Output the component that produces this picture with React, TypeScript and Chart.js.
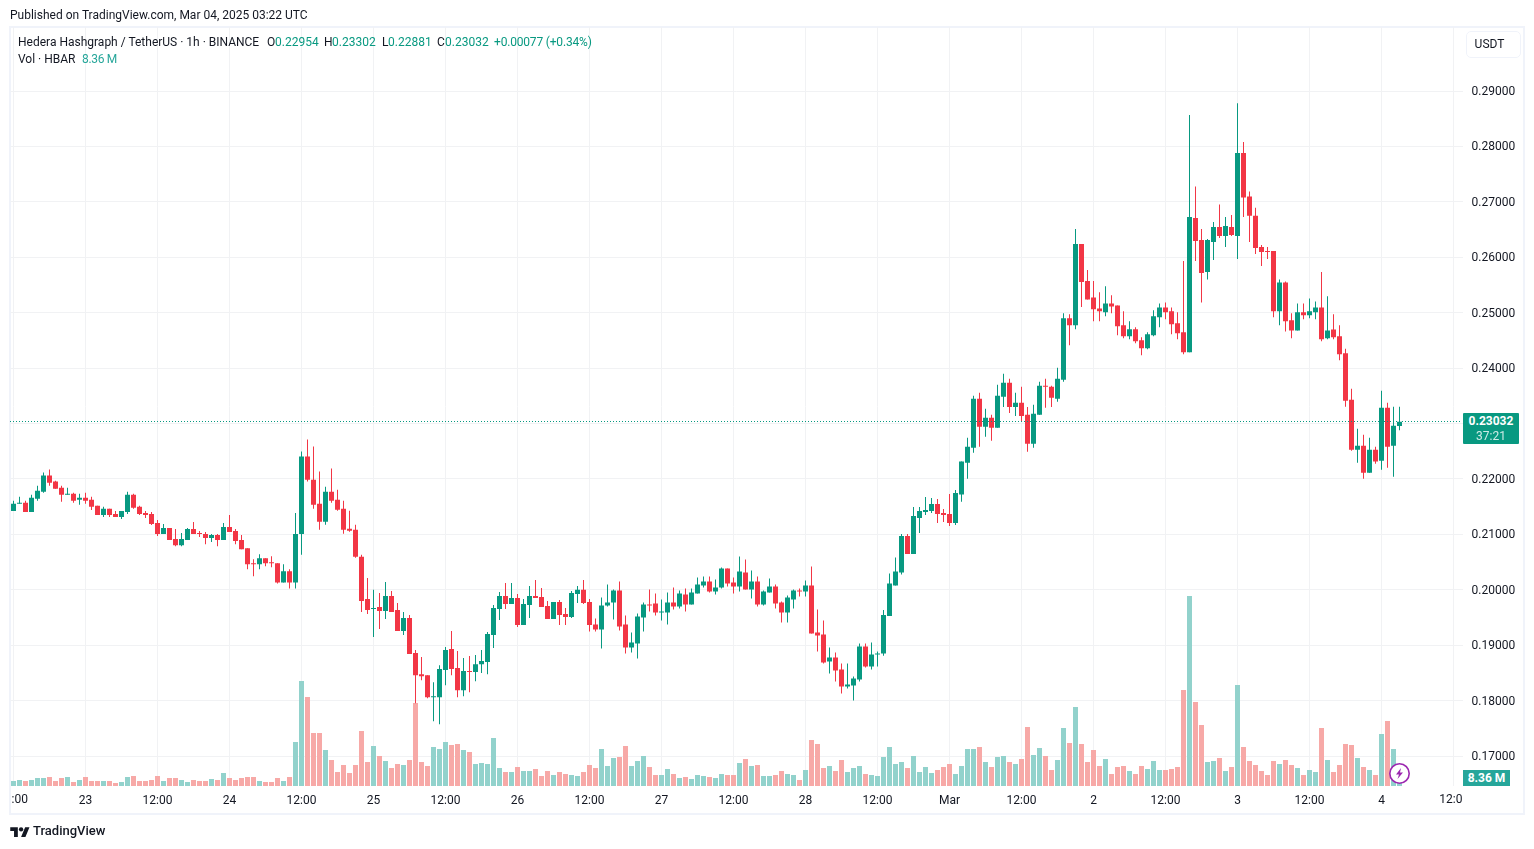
import { useEffect, useRef } from "react";
import { Chart, registerables } from "chart.js";

Chart.register(...registerables);

const FONT = "Roboto, sans-serif";
const UP = "#089981";
const DOWN = "#f23645";
const TEXT = "#131722";
const GRID = "#f1f2f4";

// one tick every 12 hourly slots, first candle is Feb 22 12:00
const timeTicks = [":00", "23", "12:00", "24", "12:00", "25", "12:00", "26", "12:00", "27", "12:00", "28", "12:00", "Mar", "12:00", "2", "12:00", "3", "12:00", "4", "12:0"];
const priceTicks = [0.17, 0.18, 0.19, 0.2, 0.21, 0.22, 0.23, 0.24, 0.25, 0.26, 0.27, 0.28, 0.29];

const opens = [
  0.21424, 0.21552, 0.2157, 0.21406, 0.21642, 0.2177, 0.22061, 0.21952, 0.21842, 0.21715,
  0.21733, 0.21624, 0.21661, 0.21624, 0.21515, 0.21352, 0.21461, 0.2137, 0.21315, 0.21406,
  0.21715, 0.21497, 0.21388, 0.2137, 0.21206, 0.21006, 0.21115, 0.20915, 0.20806, 0.20897,
  0.21097, 0.21024, 0.21006, 0.20933, 0.20988, 0.20897, 0.21133, 0.21061, 0.20897, 0.20752,
  0.20479, 0.20461, 0.2057, 0.20497, 0.20479, 0.20134, 0.20333, 0.20134, 0.21006, 0.22404,
  0.21988, 0.21554, 0.21228, 0.21771, 0.21626, 0.21463, 0.21102, 0.21083, 0.20595, 0.19835,
  0.19654, 0.1969, 0.19618, 0.1989, 0.19636, 0.19256, 0.19492, 0.18858, 0.18478, 0.1846,
  0.18062, 0.18062, 0.18551, 0.18931, 0.18587, 0.18189, 0.18533, 0.18515, 0.18659, 0.18696,
  0.19184, 0.19654, 0.1989, 0.19745, 0.19853, 0.19365, 0.19727, 0.1989, 0.19871, 0.19709,
  0.19473, 0.19781, 0.19564, 0.1951, 0.19926, 0.2, 0.19781, 0.19374, 0.19284, 0.19717,
  0.19771, 0.19988, 0.19374, 0.18959, 0.19031, 0.195, 0.19735, 0.19753, 0.19591, 0.19591,
  0.19771, 0.19699, 0.19916, 0.19735, 0.19934, 0.20078, 0.2015, 0.1997, 0.20042, 0.20385,
  0.20132, 0.2006, 0.20313, 0.20006, 0.2015, 0.19735, 0.19952, 0.2006, 0.19771, 0.19591,
  0.19825, 0.19988, 0.1997, 0.20078, 0.19229, 0.19193, 0.18706, 0.18778, 0.18561, 0.18254,
  0.18272, 0.18381, 0.18977, 0.18615, 0.18832, 0.1885, 0.19529, 0.20078, 0.20313, 0.2097,
  0.20645, 0.21294, 0.21403, 0.21421, 0.21547, 0.21385, 0.21367, 0.21204, 0.21718, 0.22294,
  0.22564, 0.23448, 0.22943, 0.23105, 0.22925, 0.23484, 0.23737, 0.233, 0.23376, 0.23159,
  0.22634, 0.23159, 0.23682, 0.23665, 0.23448, 0.2379, 0.24898, 0.24772, 0.2624, 0.25573,
  0.25276, 0.25078, 0.25006, 0.25168, 0.25132, 0.24772, 0.24573, 0.247, 0.24501, 0.24357,
  0.24591, 0.24916, 0.25096, 0.25024, 0.24808, 0.24645, 0.24285, 0.26709, 0.26313, 0.25736,
  0.26276, 0.26547, 0.26385, 0.26547, 0.26385, 0.2788, 0.27096, 0.26751, 0.26186, 0.26114,
  0.26114, 0.25024, 0.25547, 0.24862, 0.24681, 0.25006, 0.24952, 0.25006, 0.25096, 0.24537,
  0.24699, 0.24573, 0.24267, 0.2343, 0.22528, 0.226, 0.22114, 0.22528, 0.2233, 0.23285,
  0.226, 0.22954,
];

const highs = [
  0.21606, 0.21679, 0.21606, 0.21715, 0.21879, 0.22115, 0.2217, 0.2197, 0.21879, 0.21842,
  0.21752, 0.21733, 0.21752, 0.21679, 0.21515, 0.21497, 0.21461, 0.21424, 0.21424, 0.2177,
  0.21733, 0.21515, 0.21424, 0.21406, 0.21261, 0.21188, 0.21115, 0.21097, 0.21024, 0.21115,
  0.21224, 0.21061, 0.21043, 0.21006, 0.21006, 0.21206, 0.21352, 0.21097, 0.20988, 0.20752,
  0.20552, 0.20643, 0.2057, 0.20606, 0.20479, 0.20461, 0.2037, 0.21388, 0.22494, 0.22712,
  0.22585, 0.22133, 0.21861, 0.22187, 0.21807, 0.21608, 0.21427, 0.21174, 0.20631, 0.20215,
  0.2, 0.19944, 0.20143, 0.1998, 0.19763, 0.196, 0.19546, 0.18913, 0.18786, 0.1846,
  0.18334, 0.18641, 0.18967, 0.19256, 0.18895, 0.18768, 0.18804, 0.18822, 0.18913, 0.19238,
  0.19727, 0.19962, 0.20125, 0.20125, 0.19926, 0.19835, 0.2007, 0.20179, 0.20034, 0.19799,
  0.19781, 0.19817, 0.19672, 0.1998, 0.2007, 0.20179, 0.19835, 0.19482, 0.19862, 0.20096,
  0.20006, 0.2015, 0.19536, 0.19229, 0.19573, 0.19771, 0.20006, 0.19934, 0.19825, 0.19952,
  0.20042, 0.19988, 0.20024, 0.20024, 0.20223, 0.20241, 0.20241, 0.20187, 0.20403, 0.20385,
  0.20223, 0.20602, 0.20548, 0.20349, 0.20241, 0.19988, 0.20205, 0.20096, 0.19789, 0.19898,
  0.20006, 0.20024, 0.20169, 0.20421, 0.19645, 0.19446, 0.18959, 0.18868, 0.1867, 0.1867,
  0.18435, 0.19031, 0.19031, 0.19049, 0.18886, 0.19637, 0.20294, 0.20583, 0.21006, 0.21006,
  0.21493, 0.21493, 0.21673, 0.21655, 0.21637, 0.21457, 0.21727, 0.21799, 0.22313, 0.22745,
  0.23502, 0.23556, 0.23267, 0.23159, 0.23701, 0.23899, 0.23809, 0.23556, 0.23665, 0.233,
  0.23339, 0.23754, 0.23809, 0.23682, 0.24006, 0.24988, 0.2497, 0.26511, 0.2624, 0.25772,
  0.25573, 0.25367, 0.25475, 0.25313, 0.25132, 0.25024, 0.24844, 0.24736, 0.24555, 0.24645,
  0.25042, 0.25168, 0.25186, 0.25096, 0.25006, 0.25934, 0.28565, 0.27276, 0.26511, 0.2633,
  0.26638, 0.26952, 0.26727, 0.26763, 0.28781, 0.28078, 0.27186, 0.26892, 0.26222, 0.26186,
  0.26114, 0.25601, 0.25565, 0.24988, 0.25168, 0.25168, 0.25258, 0.25204, 0.25736, 0.25295,
  0.2497, 0.24772, 0.24349, 0.23628, 0.22907, 0.22799, 0.22745, 0.22582, 0.23592, 0.23376,
  0.23304, 0.23302,
];

const lows = [
  0.21424, 0.21552, 0.21406, 0.21406, 0.21606, 0.21752, 0.21879, 0.21824, 0.21588, 0.21715,
  0.2157, 0.21533, 0.21552, 0.21442, 0.21352, 0.21315, 0.21315, 0.21315, 0.21279, 0.2137,
  0.21461, 0.21352, 0.21297, 0.2117, 0.2097, 0.21006, 0.20897, 0.20788, 0.20788, 0.20897,
  0.21006, 0.20952, 0.20824, 0.20861, 0.20788, 0.20897, 0.21043, 0.20824, 0.20733, 0.2037,
  0.20243, 0.2037, 0.20424, 0.20406, 0.20115, 0.20134, 0.20024, 0.20024, 0.20631, 0.21952,
  0.21463, 0.21083, 0.21174, 0.21572, 0.21427, 0.21011, 0.21047, 0.20577, 0.196, 0.19564,
  0.19148, 0.19293, 0.19473, 0.196, 0.19256, 0.19184, 0.1884, 0.17954, 0.1837, 0.18044,
  0.17628, 0.17574, 0.1828, 0.1846, 0.18062, 0.1808, 0.18153, 0.18352, 0.18497, 0.18478,
  0.18949, 0.19455, 0.19654, 0.19745, 0.19329, 0.19365, 0.19492, 0.19853, 0.1969, 0.19473,
  0.19473, 0.19365, 0.19365, 0.19492, 0.19763, 0.19745, 0.19247, 0.19247, 0.1894, 0.19699,
  0.19464, 0.19266, 0.1885, 0.18868, 0.1876, 0.19247, 0.19609, 0.19536, 0.19446, 0.19374,
  0.19645, 0.19663, 0.19609, 0.19735, 0.19934, 0.20042, 0.19952, 0.19916, 0.20024, 0.2006,
  0.19934, 0.1997, 0.20006, 0.19843, 0.19699, 0.19717, 0.19952, 0.19663, 0.1941, 0.1941,
  0.19663, 0.1988, 0.1988, 0.19211, 0.18886, 0.1867, 0.18489, 0.18344, 0.18128, 0.18218,
  0.18001, 0.18344, 0.18597, 0.18561, 0.18615, 0.18808, 0.19529, 0.20078, 0.20277, 0.20645,
  0.20645, 0.21024, 0.21349, 0.21385, 0.21204, 0.21222, 0.2115, 0.21168, 0.21591, 0.22006,
  0.22474, 0.22583, 0.22763, 0.2269, 0.22925, 0.233, 0.23192, 0.23138, 0.2303, 0.2249,
  0.22564, 0.23159, 0.23285, 0.233, 0.23394, 0.23754, 0.24411, 0.247, 0.25105, 0.2524,
  0.24844, 0.24844, 0.24934, 0.24988, 0.24591, 0.24537, 0.24519, 0.24447, 0.2423, 0.24339,
  0.24573, 0.24736, 0.2488, 0.2461, 0.2452, 0.24249, 0.24285, 0.25934, 0.25186, 0.25601,
  0.25952, 0.26348, 0.26186, 0.26385, 0.2597, 0.26727, 0.26276, 0.2606, 0.25844, 0.2597,
  0.24916, 0.24772, 0.24663, 0.24537, 0.24681, 0.2488, 0.24898, 0.2488, 0.24483, 0.2452,
  0.2452, 0.24141, 0.23304, 0.2251, 0.22294, 0.22006, 0.22114, 0.22276, 0.22168, 0.22204,
  0.22042, 0.22881,
];

const closes = [
  0.21552, 0.2157, 0.21406, 0.21661, 0.21788, 0.22061, 0.21933, 0.21824, 0.21715, 0.21733,
  0.21606, 0.21661, 0.21606, 0.21497, 0.21352, 0.21461, 0.21352, 0.21315, 0.21424, 0.21715,
  0.21479, 0.2137, 0.21352, 0.21188, 0.21006, 0.21115, 0.20897, 0.20806, 0.20915, 0.21097,
  0.21006, 0.21006, 0.20933, 0.20988, 0.20897, 0.21133, 0.21043, 0.20879, 0.20733, 0.20461,
  0.20461, 0.2057, 0.20479, 0.20479, 0.20134, 0.20333, 0.20134, 0.21006, 0.22404, 0.21988,
  0.21536, 0.21228, 0.21771, 0.21608, 0.21445, 0.21083, 0.21065, 0.20595, 0.19799, 0.19636,
  0.19672, 0.19618, 0.1989, 0.196, 0.19256, 0.19492, 0.1884, 0.1846, 0.18442, 0.18062,
  0.1808, 0.18569, 0.18913, 0.18569, 0.18189, 0.18533, 0.18515, 0.18659, 0.18714, 0.19202,
  0.19672, 0.1989, 0.19745, 0.19853, 0.19365, 0.19745, 0.1989, 0.19853, 0.1969, 0.19473,
  0.19781, 0.19546, 0.1951, 0.19944, 0.2, 0.19763, 0.19365, 0.19284, 0.19717, 0.19771,
  0.19988, 0.19338, 0.18959, 0.19049, 0.19518, 0.19735, 0.19717, 0.19591, 0.19609, 0.19771,
  0.19699, 0.19934, 0.19735, 0.19952, 0.20096, 0.2015, 0.1997, 0.20042, 0.20385, 0.20114,
  0.2006, 0.20331, 0.20006, 0.2015, 0.19735, 0.1997, 0.2006, 0.19753, 0.19591, 0.19862,
  0.19988, 0.1997, 0.20078, 0.19211, 0.19175, 0.18688, 0.18778, 0.18543, 0.18254, 0.1829,
  0.18399, 0.18977, 0.18615, 0.18832, 0.1885, 0.19547, 0.20114, 0.20331, 0.2097, 0.20645,
  0.21331, 0.21421, 0.21439, 0.21547, 0.21367, 0.21349, 0.21204, 0.21745, 0.22313, 0.22583,
  0.23448, 0.22943, 0.23105, 0.22925, 0.23502, 0.23737, 0.233, 0.23376, 0.23138, 0.22634,
  0.23177, 0.23682, 0.23665, 0.23466, 0.23809, 0.24898, 0.24772, 0.2624, 0.25555, 0.2524,
  0.2506, 0.25024, 0.25168, 0.25114, 0.24754, 0.24573, 0.247, 0.24483, 0.24357, 0.24609,
  0.24934, 0.25096, 0.25006, 0.2479, 0.24627, 0.24285, 0.26727, 0.26294, 0.25718, 0.26313,
  0.26547, 0.26385, 0.26565, 0.26403, 0.2788, 0.27078, 0.26751, 0.26168, 0.26096, 0.26096,
  0.25024, 0.25547, 0.24844, 0.24681, 0.25006, 0.24952, 0.25024, 0.25096, 0.2452, 0.24681,
  0.24555, 0.24249, 0.23412, 0.22528, 0.226, 0.22114, 0.22528, 0.22313, 0.23285, 0.22582,
  0.22961, 0.23032,
];

// millions of HBAR
const volumes = [
  5.2, 6.3, 5.2, 6.3, 8.4, 8.4, 9.4, 5.2, 8.4, 9.4,
  4.2, 6.3, 9.4, 5.2, 5.2, 5.2, 5.2, 3.1, 4.2, 9.4,
  10.5, 5.2, 5.2, 6.3, 10.5, 5.2, 8.4, 8.4, 6.3, 4.2,
  6.3, 5.2, 5.2, 7.3, 6.3, 13.6, 8.4, 6.3, 8.4, 9.4,
  9.4, 5.2, 4.2, 4.2, 8.4, 5.2, 9.4, 46, 109.7, 93,
  55.4, 55.4, 37.6, 27.2, 14.6, 21.9, 13.6, 21.9, 57.5, 25.1,
  41.8, 31.4, 26.1, 18.8, 23, 21.9, 27.2, 86.7, 25.1, 20.9,
  40.8, 38.7, 46, 42.8, 43.9, 37.6, 35.5, 23, 24, 23,
  50.2, 18.8, 14.6, 14.6, 19.9, 15.7, 15.7, 17.8, 10.5, 15.7,
  11.5, 14.6, 12.5, 11.5, 10.5, 14.6, 21.9, 18.8, 38.7, 20.9,
  29.3, 30.3, 41.8, 20.9, 26.1, 31.4, 19.9, 11.5, 11.5, 17.8,
  12.5, 8.4, 9.4, 7.3, 11.5, 10.5, 9.4, 8.4, 12.5, 11.5,
  11.5, 24, 28.2, 20.9, 21.9, 10.5, 10.5, 11.5, 15.7, 12.5,
  11.5, 6.3, 16.7, 48.1, 43.9, 18.8, 20.9, 15.7, 27.2, 14.6,
  18.8, 20.9, 12.5, 11.5, 10.5, 30.3, 40.8, 23, 25.1, 18.8,
  31.4, 14.6, 19.9, 13.6, 16.7, 19.9, 23, 12.5, 20.9, 38.7,
  38.7, 40.8, 25.1, 19.9, 30.3, 31.4, 25.1, 23, 28.2, 61.7,
  32.4, 39.7, 31.4, 16.7, 27.2, 60.6, 44.9, 82.6, 43.9, 25.1,
  37.6, 20.9, 28.2, 12.5, 19.9, 20.9, 15.7, 12.5, 20.9, 17.8,
  26.1, 16.7, 16.7, 17.8, 19.9, 100.3, 198.6, 87.8, 63.7, 25.1,
  26.1, 29.3, 15.7, 19.9, 105.5, 40.8, 26.1, 21.9, 15.7, 11.5,
  26.1, 23, 27.2, 21.9, 18.8, 11.5, 16.7, 14.6, 60.6, 27.2,
  14.6, 21.9, 43.9, 42.8, 29.3, 19.9, 16.7, 11.5, 54.3, 67.9,
  38.7, 8.36,
];

const legendRows = [
  { text: "Published on TradingView.com, Mar 04, 2025 03:22 UTC", left: 10, top: 15, color: TEXT },
  { text: "Hedera Hashgraph / TetherUS · 1h · BINANCE", left: 18, top: 42, color: TEXT },
  { text: "O", left: 267, top: 42, color: TEXT },
  { text: "0.22954", left: 275, top: 42, color: UP },
  { text: "H", left: 324, top: 42, color: TEXT },
  { text: "0.23302", left: 332, top: 42, color: UP },
  { text: "L", left: 382, top: 42, color: TEXT },
  { text: "0.22881", left: 388, top: 42, color: UP },
  { text: "C", left: 437, top: 42, color: TEXT },
  { text: "0.23032", left: 445, top: 42, color: UP },
  { text: "+0.00077 (+0.34%)", left: 494, top: 42, color: UP, spacing: -0.18 },
  { text: "Vol · HBAR", left: 18, top: 59, color: TEXT },
  { text: "8.36 M", left: 82, top: 59, color: "#26a69a", spacing: -0.3 },
];

const slotLabels = Array.from({ length: 242 }, (_, i) => (i % 12 === 0 ? timeTicks[i / 12] : ""));
const lastClose = closes[closes.length - 1];

// last price line and the two time labels cut by the pane edges
const panePlugin = {
  id: "pane",
  afterDatasetsDraw(chart: any) {
    const { ctx, chartArea, scales } = chart;
    const y = Math.floor(scales.y.getPixelForValue(lastClose)) + 0.5;
    ctx.save();
    ctx.strokeStyle = UP;
    ctx.lineWidth = 1;
    ctx.setLineDash([1, 2]);
    ctx.beginPath();
    ctx.moveTo(Math.floor(chartArea.left), y);
    ctx.lineTo(Math.floor(chartArea.right), y);
    ctx.stroke();
    ctx.setLineDash([]);
    ctx.fillStyle = TEXT;
    ctx.font = `12px ${FONT}`;
    ctx.textBaseline = "middle";
    ctx.textAlign = "left";
    ctx.fillText(timeTicks[0], chartArea.left + 1, 800);
    ctx.textAlign = "right";
    ctx.fillText(timeTicks[timeTicks.length - 1], chartArea.right, 800);
    ctx.restore();
  },
};

export default function App() {
  const canvasRef = useRef<HTMLCanvasElement>(null);

  useEffect(() => {
    if (!canvasRef.current) return;
    const colors = closes.map((c, i) => (c >= opens[i] ? UP : DOWN));
    const volColors = closes.map((c, i) => (c >= opens[i] ? "#92d2cc" : "#f7a9a7"));

    const chart = new Chart(canvasRef.current, {
      type: "bar",
      data: {
        labels: slotLabels,
        datasets: [
          {
            label: "Body",
            data: opens.map((o, i) => [o, closes[i]]),
            backgroundColor: colors,
            barThickness: 5,
            minBarLength: 1,
            inflateAmount: 0,
            grouped: false,
            yAxisID: "y",
          },
          {
            label: "Wick",
            data: lows.map((l, i) => [l, highs[i]]),
            backgroundColor: colors,
            barThickness: 1,
            inflateAmount: 0,
            grouped: false,
            yAxisID: "y",
          },
          {
            label: "Vol",
            data: volumes,
            backgroundColor: volColors,
            barThickness: 5,
            inflateAmount: 0,
            grouped: false,
            yAxisID: "vol",
          },
        ] as any,
      },
      options: {
        responsive: false,
        animation: false,
        devicePixelRatio: 1,
        layout: { padding: { left: 10.5, top: 27, right: 0, bottom: 0 } },
        plugins: { legend: { display: false }, tooltip: { enabled: false } },
        scales: {
          x: {
            grid: { color: GRID, offset: false, drawTicks: false },
            border: { display: false },
            afterBuildTicks: (axis: any) => {
              axis.ticks = axis.ticks.filter((t: any) => t.value % 12 === 0);
            },
            afterFit: (axis: any) => {
              axis.height = 63;
            },
            ticks: {
              autoSkip: false,
              maxRotation: 0,
              padding: 8,
              color: TEXT,
              font: { family: FONT, size: 12 },
              callback: (value: any) => (value === 0 || value === 240 ? "" : slotLabels[value]),
            },
          },
          y: {
            position: "right",
            min: 0.1646,
            max: 0.30155,
            grid: { color: GRID, drawTicks: false },
            border: { display: false },
            afterBuildTicks: (axis: any) => {
              axis.ticks = priceTicks.map((value) => ({ value }));
            },
            afterFit: (axis: any) => {
              axis.width = 71.5;
            },
            ticks: {
              padding: 9,
              labelOffset: 1,
              color: TEXT,
              font: { family: FONT, size: 12 },
              callback: (value: any) => Number(value).toFixed(5),
            },
          },
          vol: { display: false, min: 0, max: 793.2 },
        },
      },
      plugins: [panePlugin],
    });

    return () => {
      chart.destroy();
    };
  }, []);

  const text = { position: "absolute", whiteSpace: "nowrap", font: `12px/16px ${FONT}` } as const;

  return (
    <div style={{ position: "absolute", left: 0, top: 0, width: 1534, height: 849, background: "#fff", overflow: "hidden" }}>
      <div style={{ position: "absolute", left: 9, top: 26, width: 1512, height: 785, border: "2px solid #f0f3fa", boxSizing: "content-box" }} />
      <canvas ref={canvasRef} width={1534} height={849} style={{ position: "absolute", left: 0, top: 0 }} />

      {legendRows.map((r) => (
        <div key={r.text + r.left} style={{ ...text, left: r.left, top: r.top - 8, color: r.color, letterSpacing: r.spacing }}>
          {r.text}
        </div>
      ))}

      <div style={{ position: "absolute", left: 1466, top: 31, width: 45, height: 25, paddingRight: 8, border: "1px solid #f0f3fa", borderRadius: 5, textAlign: "center", font: `12px/25px ${FONT}`, color: TEXT }}>
        USDT
      </div>

      <div style={{ position: "absolute", left: 1463, top: 413, width: 56, height: 31, background: UP, borderRadius: 1, textAlign: "center", color: "#fff" }}>
        <div style={{ font: `bold 12px/15px ${FONT}`, marginTop: 1 }}>0.23032</div>
        <div style={{ font: `12px/14px ${FONT}`, opacity: 0.8 }}>37:21</div>
      </div>
      <div style={{ position: "absolute", left: 1463, top: 770, width: 47, height: 16, background: "#26a69a", textAlign: "center", color: "#fff", font: `bold 12px/16px ${FONT}` }}>
        8.36 M
      </div>

      <svg style={{ position: "absolute", left: 1388, top: 762 }} width={23} height={23} viewBox="0 0 23 23">
        <circle cx={11.5} cy={11.5} r={9.7} fill="#fff" stroke="#9c27b0" strokeWidth={1.6} />
        <path d="M13 6 L8 12.5 H11 L9.5 17 L15 10.5 H12 Z" fill="#9c27b0" />
      </svg>

      <svg style={{ position: "absolute", left: 10, top: 825 }} width={20} height={13} viewBox="0 0 36 24">
        <path d="M14 22H7V11H0V4h14v18zM28 22h-8l7.5-18h8L28 22z" fill={TEXT} />
        <circle cx={20} cy={8} r={4} fill={TEXT} />
      </svg>
      <div style={{ position: "absolute", left: 33, top: 823, whiteSpace: "nowrap", font: `500 13px/16px ${FONT}`, color: TEXT }}>TradingView</div>
    </div>
  );
}
